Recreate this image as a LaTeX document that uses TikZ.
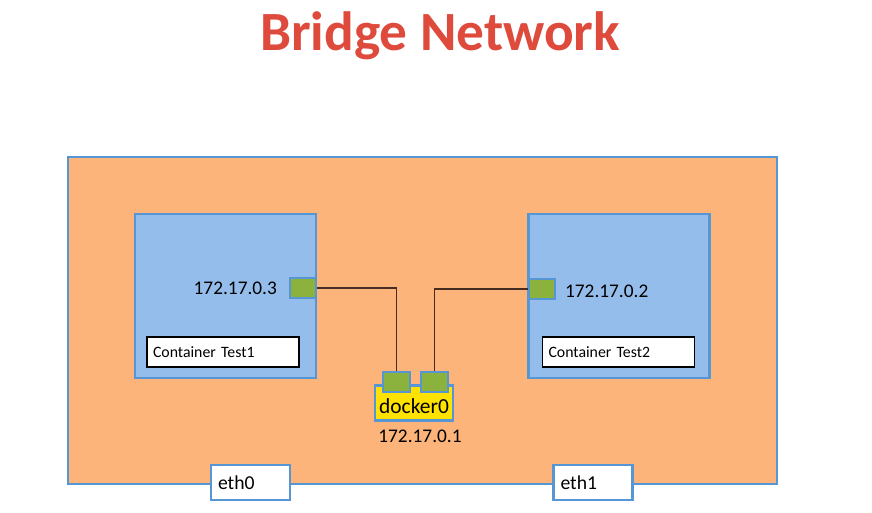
\documentclass[tikz,border=0pt]{standalone}
\usepackage{fontspec}
\setmainfont{Carlito}
\usepackage{tikz}
\usetikzlibrary{positioning,calc}
\usepackage{xcolor}
\definecolor{hostOrange}{RGB}{252,180,122}
\definecolor{edgeBlue}{RGB}{86,150,212}
\definecolor{boxBlue}{RGB}{149,189,235}
\definecolor{portGreen}{RGB}{138,178,60}
\definecolor{bridgeYellow}{RGB}{255,226,0}
\definecolor{titleRed}{RGB}{222,74,60}
\definecolor{wireDark}{RGB}{70,45,35}
\tikzset{
    hostBox/.style={
        draw=edgeBlue,
        fill=hostOrange,
        line width=1.2pt,
        minimum width=14.18cm,
        minimum height=6.54cm
    },
    containerBox/.style={
        draw=edgeBlue,
        fill=boxBlue,
        line width=1.2pt,
        minimum width=3.62cm,
        minimum height=3.28cm
    },
    portBox/.style={
        draw=edgeBlue,
        fill=portGreen,
        line width=1.2pt,
        inner sep=0pt,
        minimum width=0.52cm,
        minimum height=0.4cm
    },
    nameBox/.style={
        draw=black,
        fill=white,
        line width=1pt,
        text width=2.8cm,
        inner xsep=0.12cm,
        minimum height=0.6cm,
        align=left,
        font=\fontsize{9}{10}\selectfont
    },
    ethBox/.style={
        draw=edgeBlue,
        fill=white,
        line width=1.2pt,
        text width=1.3cm,
        inner xsep=0.14cm,
        minimum height=0.7cm,
        align=left,
        font=\fontsize{11.2}{12}\selectfont
    },
    ipLabel/.style={font=\fontsize{11}{12}\selectfont, inner sep=1pt},
    wire/.style={draw=wireDark, line width=0.6pt}
}

\begin{document}
\begin{tikzpicture}[x=0.02cm, y=-0.02cm]
    \useasboundingbox (0,0) rectangle (872,512);

    % Title
    \node[font=\fontsize{31.5}{34}\selectfont\bfseries, text=titleRed] (title) at (440,36) {Bridge Network};

    % Host
    \node[hostBox] (host) at (422.5,320.5) {};

    % Container Test1
    \node[containerBox] (ctA) at (225.5,296) {};
    \node[portBox] (portA) at (303,288) {};
    \node[ipLabel, anchor=east] (ipA) at (279,288) {172.17.0.3};
    \node[nameBox] (nameA) at (223,352) {Container Test1};

    % Container Test2
    \node[containerBox] (ctB) at (619,296) {};
    \node[portBox] (portB) at (542,289) {};
    \node[ipLabel, anchor=west] (ipB) at (563,291) {172.17.0.2};
    \node[nameBox] (nameB) at (618.5,352) {Container Test2};

    % docker0 bridge
    \node[draw=edgeBlue, fill=bridgeYellow, line width=1.2pt, minimum width=1.56cm, minimum height=0.7cm,
          text depth=0pt, inner sep=0pt, font=\fontsize{12.2}{13}\selectfont] (dock) at (414,403) {\raisebox{-3pt}{docker0}};
    \node[portBox, minimum width=0.54cm] (dockA) at (396.5,382) {};
    \node[portBox, minimum width=0.54cm] (dockB) at (434.5,382) {};
    \node[ipLabel] (ipDock) at (420,436) {172.17.0.1};

    % wires
    \draw[wire] (portA.east) -| (dockA.north);
    \draw[wire] (portB.west) -| (dockB.north);

    % host interfaces
    \node[ethBox] (ethA) at (250.5,482.5) {eth0};
    \node[ethBox] (ethB) at (593,482.5) {eth1};

\end{tikzpicture}
\end{document}
